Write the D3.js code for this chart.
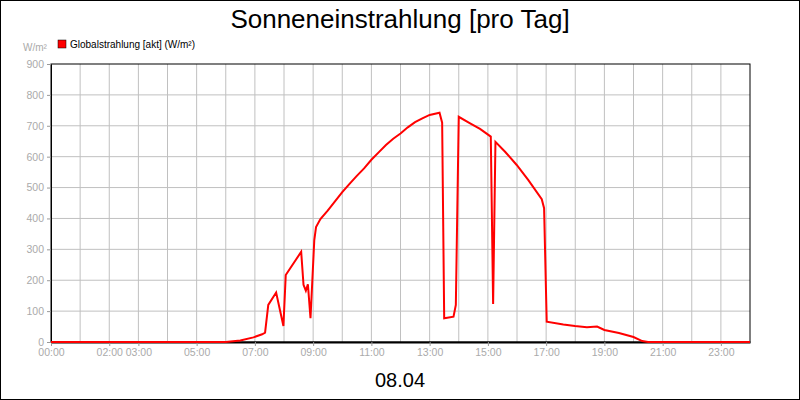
<!DOCTYPE html>
<html><head><meta charset="utf-8">
<script src="https://cdn.jsdelivr.net/npm/d3@7"></script>
<style>body{margin:0;background:#fff}svg{font-family:"Liberation Sans",Arial,sans-serif}</style>
</head><body>
<script>
// hours of day and W/m²
var hours  = [0, 6.0, 6.5, 6.95, 7.25, 7.35, 7.46, 7.73, 7.98, 8.06, 8.59, 8.67, 8.75, 8.82, 8.91, 9.04, 9.1, 9.25, 9.5, 9.75, 10, 10.25, 10.5, 10.75, 11, 11.25, 11.5, 11.75, 12, 12.25, 12.5, 12.75, 13, 13.34, 13.43, 13.5, 13.82, 13.9, 14.0, 14.39, 14.73, 15.1, 15.18, 15.26, 15.59, 15.99, 16.39, 16.85, 16.93, 17.02, 17.59, 17.99, 18.4, 18.75, 19, 19.5, 20, 20.3, 20.5, 24]
var values = [0, 0, 5, 15, 25, 30, 120, 160, 52, 217, 292, 185, 166, 187, 77, 330, 372, 398, 425, 455, 485, 512, 538, 562, 590, 614, 638, 658, 675, 695, 712, 724, 735, 742, 710, 77, 82, 120, 729, 708, 690, 665, 123, 648, 616, 573, 524, 462, 433, 66, 57, 52, 48, 50, 39, 29, 16, 3, 0, 0]
var tickHours = [0, 2, 3, 5, 7, 9, 11, 13, 15, 17, 19, 21, 23]
var yTicks = [0, 100, 200, 300, 400, 500, 600, 700, 800, 900]

var W = 800, H = 400, L = 51, R = 750, T = 64, B = 342
var svg = d3.select('body').append('svg').attr('width', W).attr('height', H)
svg.append('rect').attr('x', 0.5).attr('y', 0.5).attr('width', W - 1).attr('height', H - 1)
	.attr('fill', '#fff').attr('stroke', '#000')

var x = d3.scaleLinear().domain([0, 24]).range([L, R])
var y = d3.scaleLinear().domain([0, 900]).range([B, T])

// grid
svg.append('g').selectAll('line').data(d3.range(1, 24)).enter().append('line')
	.attr('x1', function (d) {return x(d)}).attr('x2', function (d) {return x(d)})
	.attr('y1', T).attr('y2', B).attr('stroke', '#c0c0c0')
svg.append('g').selectAll('line').data(yTicks.slice(1, -1)).enter().append('line')
	.attr('y1', function (d) {return y(d)}).attr('y2', function (d) {return y(d)})
	.attr('x1', L).attr('x2', R).attr('stroke', '#c0c0c0')

svg.append('rect').attr('x', L).attr('y', T).attr('width', R - L).attr('height', B - T)
	.attr('fill', 'none').attr('stroke', '#000')

// axes
var yAxis = svg.append('g').attr('transform', 'translate(' + L + ',0)')
	.call(d3.axisLeft(y).tickValues(yTicks).tickSize(4).tickSizeOuter(0))
var xAxis = svg.append('g').attr('transform', 'translate(0,' + B + ')')
	.call(d3.axisBottom(x).tickValues(tickHours).tickSize(4).tickSizeOuter(0)
		.tickFormat(function (d) {return (d < 10 ? '0' : '') + d + ':00'}))
;[yAxis, xAxis].forEach(function (a) {
	a.select('.domain').attr('stroke', '#000')
	a.selectAll('line').attr('stroke', '#999')
	a.selectAll('text').attr('fill', '#aaa').style('font-size', '10.5px')
})
xAxis.select('.domain').attr('stroke-width', 2)

// line
svg.append('path').datum(hours.map(function (h, i) {return [h, values[i]]}))
	.attr('d', d3.line().x(function (d) {return x(d[0])}).y(function (d) {return y(d[1])}))
	.attr('fill', 'none').attr('stroke', '#ff0000').attr('stroke-width', 2)

// texts
svg.append('text').attr('x', 400).attr('y', 28).attr('text-anchor', 'middle')
	.style('font-size', '26px').text('Sonneneinstrahlung [pro Tag]')
svg.append('text').attr('x', 400).attr('y', 387).attr('text-anchor', 'middle')
	.style('font-size', '20px').text('08.04')
svg.append('text').attr('x', 23).attr('y', 51).attr('fill', '#aaa')
	.style('font-size', '10px').text('W/m²')
svg.append('rect').attr('x', 58).attr('y', 40).attr('width', 8).attr('height', 8)
	.attr('fill', '#ff0000').attr('stroke', '#000').attr('stroke-width', 0.5)
svg.append('text').attr('x', 70).attr('y', 48).style('font-size', '10px')
	.text('Globalstrahlung [akt] (W/m²)')
</script>
</body></html>
